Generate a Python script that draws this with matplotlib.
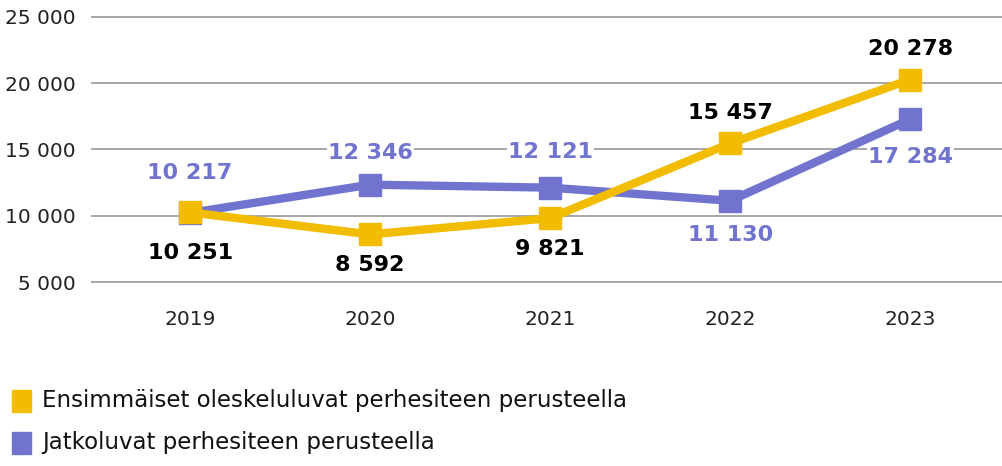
import matplotlib
matplotlib.use("Agg")
import matplotlib.pyplot as plt
from matplotlib.patches import Rectangle

years = ["2019", "2020", "2021", "2022", "2023"]
first_permits = [10251, 8592, 9821, 15457, 20278]
extended_permits = [10217, 12346, 12121, 11130, 17284]
series_names = ["Ensimmäiset oleskeluluvat perhesiteen perusteella",
                "Jatkoluvat perhesiteen perusteella"]
yticks = [5000, 10000, 15000, 20000, 25000]

YELLOW = "#F2BC00"
PURPLE = "#7074CE"

def fmt(v):
    return f"{v:,}".replace(",", " ")

plt.rcParams['font.family'] = ['DejaVu Sans']

fig = plt.figure(figsize=(10.02, 4.66), dpi=100)
ax = fig.add_axes([92/1002, 1-282/466, 910/1002, (282-17)/466])
ax.set_ylim(5000, 25000)
ax.set_xlim(-0.545, 4.51)
x = list(range(len(years)))

for y in yticks:
    ax.axhline(y, color="#a6a6a6", lw=1.4, zorder=0, clip_on=False)

ax.plot(x, extended_permits, color=PURPLE, lw=6, marker="s", ms=16, zorder=3)
ax.plot(x, first_permits, color=YELLOW, lw=6, marker="s", ms=16, zorder=4)

for s in ax.spines.values():
    s.set_visible(False)
ax.set_yticks(yticks)
ax.set_yticklabels([fmt(v) for v in yticks], fontsize=14.5, color="#222222")
ax.set_xticks(x)
ax.set_xticklabels(years, fontsize=14.5, color="#222222")
ax.tick_params(length=0, axis="y", pad=12)
ax.tick_params(length=0, axis="x", pad=20)

# label offsets in points (layout only)
yellow_off = [-29, -22, -22, 22, 22]
purple_off = [29, 23, 26, -25, -27]
for i in x:
    ax.annotate(fmt(first_permits[i]), (i, first_permits[i]), xytext=(0, yellow_off[i]),
                textcoords="offset points", ha="center", va="center",
                fontsize=16, fontweight="bold", color="black", zorder=6)
    ax.annotate(fmt(extended_permits[i]), (i, extended_permits[i]), xytext=(0, purple_off[i]),
                textcoords="offset points", ha="center", va="center",
                fontsize=16, fontweight="bold", color=PURPLE, zorder=6,
                bbox=dict(boxstyle="square,pad=0.05", fc="white", ec="none"))

# legend
for k, (name, col) in enumerate(zip(series_names, [YELLOW, PURPLE])):
    yc = 1 - (401 + k*42)/466
    fig.patches.append(Rectangle((12/1002, yc - 11/466), 19/1002, 22/466,
                                 transform=fig.transFigure, color=col))
    fig.text(42/1002, yc, name, fontsize=16.5, va="center", ha="left", color="#111111")

fig.savefig("out.png", dpi=100)
